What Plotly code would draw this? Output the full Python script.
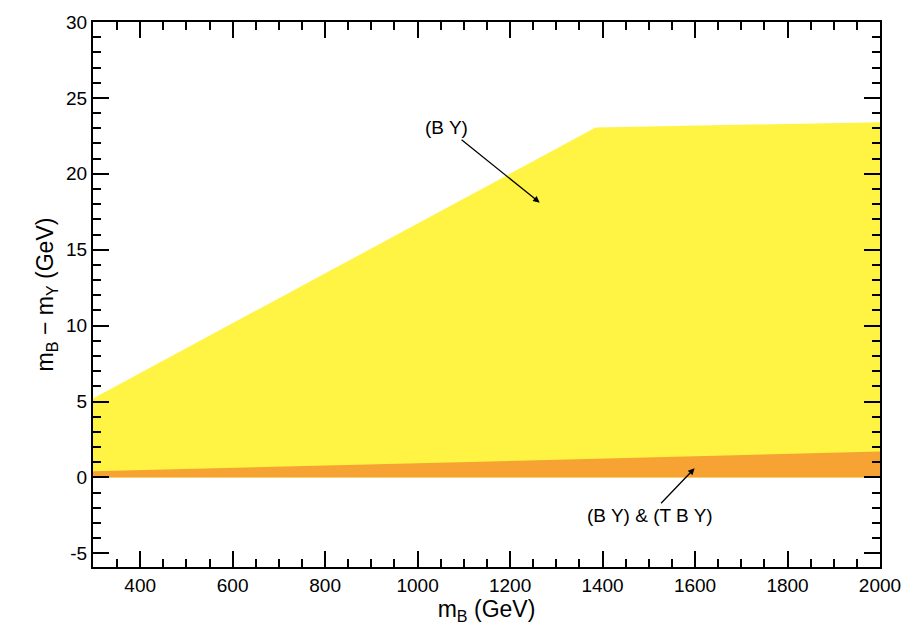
import plotly.graph_objects as go

# Data
x_by = [298, 1385, 2000]          # upper edge of (B Y) region
y_by = [5.2, 23.05, 23.4]
x_tby = [298, 2000]               # upper edge of (B Y) & (T B Y) region
y_tby = [0.4, 1.7]

x_tickvals = [400, 600, 800, 1000, 1200, 1400, 1600, 1800, 2000]
x_ticktext = ["400", "600", "800", "1000", "1200", "1400", "1600", "1800", "2000"]
y_tickvals = [-5, 0, 5, 10, 15, 20, 25, 30]
y_ticktext = ["-5", "0", "5", "10", "15", "20", "25", "30"]

yellow = "#FFF443"
orange = "#F6A333"

fig = go.Figure()
fig.add_trace(go.Scatter(x=x_by, y=y_by, mode="lines", line=dict(width=0, color=yellow),
                         fill="tozeroy", fillcolor=yellow, hoverinfo="skip", showlegend=False))
fig.add_trace(go.Scatter(x=x_tby, y=y_tby, mode="lines", line=dict(width=0, color=orange),
                         fill="tozeroy", fillcolor=orange, hoverinfo="skip", showlegend=False))

font = "Liberation Sans, Arial, sans-serif"
fig.add_annotation(x=1264, y=18.1, text="(B Y)", showarrow=True, arrowhead=2, arrowsize=1,
                   arrowwidth=1.3, arrowcolor="black", ax=-93, ay=-75,
                   font=dict(family=font, size=19, color="black"))
fig.add_annotation(x=1599, y=0.6, text="(B Y) & (T B Y)", showarrow=True, arrowhead=2, arrowsize=1,
                   arrowwidth=1.3, arrowcolor="black", ax=-45, ay=47,
                   font=dict(family=font, size=19, color="black"))

axis_common = dict(showline=True, linecolor="black", linewidth=2, mirror="ticks",
                   ticks="inside", ticklen=16, tickwidth=2, tickcolor="black",
                   showgrid=False, zeroline=False,
                   tickfont=dict(family=font, size=19, color="black"))

fig.update_xaxes(range=[298, 2000], tickmode="array", tickvals=x_tickvals, ticktext=x_ticktext,
                 minor=dict(ticks="inside", ticklen=8, tickwidth=2, tickcolor="black", dtick=50, tick0=0),
                 title=dict(text="m<sub>B</sub> (GeV)", font=dict(family=font, size=23, color="black"), standoff=4),
                 **axis_common)
fig.update_yaxes(range=[-5.9, 30], tickmode="array", tickvals=y_tickvals, ticktext=y_ticktext,
                 minor=dict(ticks="inside", ticklen=8, tickwidth=2, tickcolor="black", dtick=1, tick0=0),
                 title=dict(text="m<sub>B</sub> − m<sub>Y</sub> (GeV)", font=dict(family=font, size=23, color="black"), standoff=6),
                 **axis_common)

fig.update_layout(width=914, height=634, margin=dict(l=93, r=34, t=17, b=67),
                  plot_bgcolor="white", paper_bgcolor="white")

fig.write_html("out.html")
